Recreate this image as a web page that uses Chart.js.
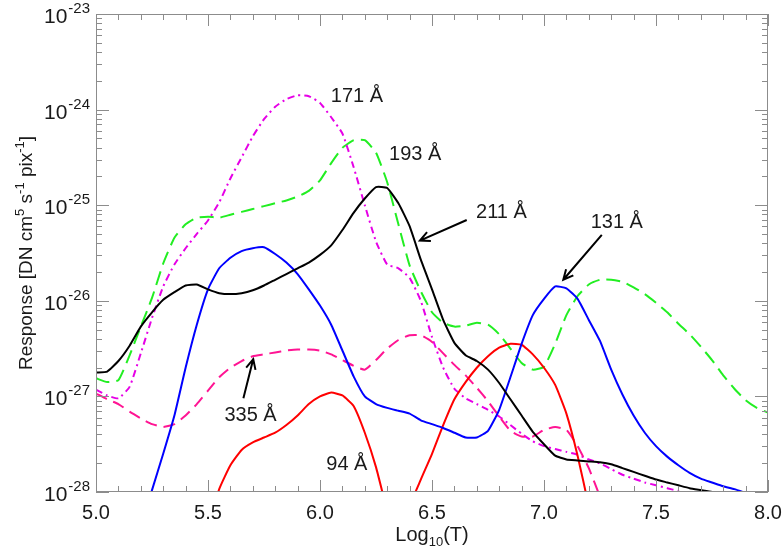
<!DOCTYPE html>
<html>
<head>
<meta charset="utf-8">
<script src="https://cdn.jsdelivr.net/npm/chart.js@4"></script>
<style>
  html, body { margin: 0; padding: 0; background: #fff; }
  canvas { display: block; }
</style>
</head>
<body>
<canvas id="resp-chart" width="782" height="546"></canvas>
<script>
// log10(T) grid shared by all channels
const logT = [5.00, 5.05, 5.10, 5.15, 5.20, 5.25, 5.30, 5.35, 5.40, 5.45,
              5.50, 5.55, 5.60, 5.65, 5.70, 5.75, 5.80, 5.85, 5.90, 5.95,
              6.00, 6.05, 6.10, 6.15, 6.20, 6.25, 6.30, 6.35, 6.40, 6.45,
              6.50, 6.55, 6.60, 6.65, 6.70, 6.75, 6.80, 6.85, 6.90, 6.95,
              7.00, 7.05, 7.10, 7.15, 7.20, 7.25, 7.30, 7.35, 7.40, 7.45,
              7.50, 7.55, 7.60, 7.65, 7.70, 7.75, 7.80, 7.85, 7.90, 7.95, 8.00];

// log10 of the response per channel (null = off the bottom of the plot)
const log94 = [null, null, null, null, null, null, null, null, null, null,
               -28.40, -27.97, -27.72, -27.56, -27.48, -27.43, -27.38, -27.30, -27.20, -27.08,
               -27.00, -26.96, -26.99, -27.10, -27.38, -27.74, -28.20, -28.60, -28.15, -27.87,
               -27.60, -27.30, -27.03, -26.85, -26.70, -26.58, -26.49, -26.45, -26.46, -26.56,
               -26.70, -26.88, -27.18, -27.62, -28.15, -28.70, null, null, null, null,
               null, null, null, null, null, null, null, null, null, null, null];
const log131 = [null, null, null, null, -28.40, -27.98, -27.60, -27.20, -26.70, -26.25,
                -25.88, -25.66, -25.55, -25.48, -25.45, -25.44, -25.51, -25.60, -25.72, -25.88,
                -26.05, -26.25, -26.52, -26.79, -27.00, -27.08, -27.12, -27.15, -27.18, -27.25,
                -27.29, -27.33, -27.38, -27.43, -27.43, -27.36, -27.14, -26.80, -26.45, -26.15,
                -25.98, -25.85, -25.87, -25.98, -26.20, -26.42, -26.72, -26.98, -27.20, -27.38,
                -27.52, -27.63, -27.72, -27.80, -27.86, -27.90, -27.94, -27.97, -28.01, -28.05, -28.08];
const log171 = [-26.93, -26.99, -27.02, -26.90, -26.55, -26.18, -25.85, -25.62, -25.45, -25.30,
                -25.16, -24.97, -24.72, -24.50, -24.28, -24.10, -23.97, -23.89, -23.85, -23.86,
                -23.93, -24.08, -24.25, -24.60, -25.00, -25.38, -25.62, -25.66, -25.76, -26.00,
                -26.38, -26.70, -26.92, -27.02, -27.08, -27.14, -27.21, -27.30, -27.39, -27.47,
                -27.52, -27.55, -27.58, -27.61, -27.66, -27.70, -27.76, -27.82, -27.86, -27.90,
                -27.93, -27.96, -27.99, -28.02, -28.05, null, null, null, null, null, null];
const log193 = [-26.81, -26.85, -26.83, -26.57, -26.27, -25.97, -25.61, -25.34, -25.20, -25.13,
                -25.12, -25.13, -25.10, -25.07, -25.04, -25.01, -24.98, -24.95, -24.91, -24.85,
                -24.74, -24.56, -24.40, -24.32, -24.32, -24.45, -24.76, -25.20, -25.63, -25.90,
                -26.12, -26.23, -26.27, -26.26, -26.23, -26.25, -26.35, -26.50, -26.65, -26.72,
                -26.69, -26.45, -26.15, -25.95, -25.83, -25.78, -25.78, -25.80, -25.86, -25.93,
                -26.02, -26.12, -26.24, -26.35, -26.48, -26.62, -26.78, -26.92, -27.04, -27.12, -27.17];
const log211 = [-26.75, -26.74, -26.63, -26.47, -26.27, -26.12, -25.99, -25.91, -25.84, -25.83,
                -25.88, -25.92, -25.93, -25.92, -25.89, -25.84, -25.78, -25.72, -25.66, -25.60,
                -25.52, -25.42, -25.26, -25.08, -24.93, -24.81, -24.82, -24.98, -25.22, -25.57,
                -25.88, -26.20, -26.44, -26.57, -26.63, -26.72, -26.86, -27.03, -27.20, -27.37,
                -27.50, -27.62, -27.66, -27.67, -27.68, -27.69, -27.71, -27.75, -27.79, -27.83,
                -27.87, -27.90, -27.93, -27.96, -27.98, -28.00, -28.03, null, null, null, null];
const log335 = [-26.97, -27.03, -27.08, -27.16, -27.23, -27.29, -27.32, -27.29, -27.20, -27.08,
                -26.94, -26.80, -26.70, -26.63, -26.58, -26.56, -26.54, -26.52, -26.51, -26.51,
                -26.52, -26.56, -26.62, -26.68, -26.72, -26.62, -26.50, -26.41, -26.36, -26.36,
                -26.43, -26.55, -26.67, -26.78, -26.91, -27.05, -27.21, -27.36, -27.42, -27.42,
                -27.35, -27.32, -27.35, -27.52, -27.75, -28.05, -28.35, null, null, null,
                null, null, null, null, null, null, null, null, null, null, null];

// axis ticks
const xTickLabels = ['5.0', '5.5', '6.0', '6.5', '7.0', '7.5', '8.0'];
const yTickExps = [-28, -27, -26, -25, -24, -23];

// channel labels: text, anchor (log T, log R)
const channelLabels = [
  { text: '171 Å', t: 6.165, r: -23.85 },
  { text: '193 Å', t: 6.425, r: -24.46 },
  { text: '211 Å', t: 6.81, r: -25.07 },
  { text: '131 Å', t: 7.325, r: -25.17 },
  { text: '335 Å', t: 5.69, r: -27.19 },
  { text: '94 Å', t: 6.12, r: -27.70 }
];
// arrows: from (t0,r0) to head (t1,r1)
const arrows = [
  { t0: 6.655, r0: -25.155, t1: 6.446, r1: -25.37 },
  { t0: 7.258, r0: -25.31, t1: 7.086, r1: -25.78 },
  { t0: 5.658, r0: -27.02, t1: 5.702, r1: -26.61 }
];

const FONT = "'Liberation Sans', Arial, Helvetica, sans-serif";

function toPoints(logs) {
  return logT.map((t, i) => ({ x: t, y: logs[i] === null ? null : Math.pow(10, logs[i]) }));
}

// IDL-style frame, inward ticks, labels and annotations
const idlAxes = {
  id: 'idlAxes',
  afterDraw(chart) {
    const { ctx, chartArea: a } = chart;
    const xs = chart.scales.x, ys = chart.scales.y;
    ctx.save();

    // ticks
    ctx.strokeStyle = '#8c8c8c';
    ctx.lineWidth = 1;
    ctx.beginPath();
    for (let k = 0; k <= 30; k++) {
      const px = Math.round(xs.getPixelForValue(5 + k / 10)) + 0.5;
      const len = k % 5 === 0 ? 12 : 6;
      ctx.moveTo(px, a.bottom); ctx.lineTo(px, a.bottom - len);
      ctx.moveTo(px, a.top); ctx.lineTo(px, a.top + len);
    }
    for (let e = -28; e < -23; e++) {
      for (let m = 1; m <= 9; m++) {
        const py = Math.round(ys.getPixelForValue(m * Math.pow(10, e))) + 0.5;
        const len = m === 1 ? 13 : 6;
        ctx.moveTo(a.left, py); ctx.lineTo(a.left + len, py);
        ctx.moveTo(a.right, py); ctx.lineTo(a.right - len, py);
      }
    }
    ctx.stroke();
    ctx.strokeRect(a.left + 0.5, a.top + 0.5, a.right - a.left - 1, a.bottom - a.top - 1);

    ctx.fillStyle = '#1a1a1a';
    // x tick labels
    ctx.font = '20px ' + FONT;
    ctx.textAlign = 'center';
    ctx.textBaseline = 'alphabetic';
    xTickLabels.forEach(lbl => {
      ctx.fillText(lbl, xs.getPixelForValue(parseFloat(lbl)), a.bottom + 27);
    });

    // y tick labels 10^n
    yTickExps.forEach(e => {
      const py = ys.getPixelForValue(Math.pow(10, e));
      const sup = '-' + Math.abs(e);
      ctx.font = '15px ' + FONT;
      const sw = ctx.measureText(sup).width;
      ctx.textAlign = 'left';
      const right = a.left - 6;
      ctx.fillText(sup, right - sw, py - 1);
      ctx.font = '21px ' + FONT;
      ctx.textAlign = 'right';
      ctx.fillText('10', right - sw - 1, py + 9);
    });

    // x title: Log10(T)
    const parts = [['Log', 20, 0], ['10', 13, 5], ['(T)', 20, 0]];
    let total = 0;
    parts.forEach(p => { ctx.font = p[1] + 'px ' + FONT; total += ctx.measureText(p[0]).width; });
    let cx = (a.left + a.right) / 2 - total / 2;
    ctx.textAlign = 'left';
    parts.forEach(p => {
      ctx.font = p[1] + 'px ' + FONT;
      ctx.fillText(p[0], cx, 541 + p[2]);
      cx += ctx.measureText(p[0]).width;
    });

    // y title: Response [DN cm^5 s^-1 pix^-1]
    const yparts = [['Response [DN cm', 19, 0], ['5', 13, -8], [' s', 19, 0], ['-1', 13, -8],
                    [' pix', 19, 0], ['-1', 13, -8], [']', 19, 0]];
    let ytotal = 0;
    yparts.forEach(p => { ctx.font = p[1] + 'px ' + FONT; ytotal += ctx.measureText(p[0]).width; });
    ctx.save();
    ctx.translate(32, (a.top + a.bottom) / 2);
    ctx.rotate(-Math.PI / 2);
    let ty = -ytotal / 2;
    yparts.forEach(p => {
      ctx.font = p[1] + 'px ' + FONT;
      ctx.fillText(p[0], ty, p[2]);
      ty += ctx.measureText(p[0]).width;
    });
    ctx.restore();

    // channel labels
    ctx.font = '20px ' + FONT;
    ctx.textAlign = 'center';
    ctx.textBaseline = 'middle';
    channelLabels.forEach(l => {
      ctx.fillText(l.text, xs.getPixelForValue(l.t), ys.getPixelForValue(Math.pow(10, l.r)) + 1);
    });

    // arrows
    ctx.strokeStyle = '#000';
    ctx.lineWidth = 2;
    arrows.forEach(ar => {
      const x0 = xs.getPixelForValue(ar.t0), y0 = ys.getPixelForValue(Math.pow(10, ar.r0));
      const x1 = xs.getPixelForValue(ar.t1), y1 = ys.getPixelForValue(Math.pow(10, ar.r1));
      const ang = Math.atan2(y1 - y0, x1 - x0);
      ctx.beginPath();
      ctx.moveTo(x0, y0); ctx.lineTo(x1, y1);
      ctx.moveTo(x1 - 11 * Math.cos(ang - 0.45), y1 - 11 * Math.sin(ang - 0.45));
      ctx.lineTo(x1, y1);
      ctx.lineTo(x1 - 11 * Math.cos(ang + 0.45), y1 - 11 * Math.sin(ang + 0.45));
      ctx.stroke();
    });
    ctx.restore();
  }
};

const ctxResp = document.getElementById('resp-chart').getContext('2d');

const respChart = new Chart(ctxResp, {
  type: 'line',
  data: {
    datasets: [
      { label: '211 Å', data: toPoints(log211), borderColor: '#000000', borderWidth: 2 },
      { label: '131 Å', data: toPoints(log131), borderColor: '#0000ff', borderWidth: 2 },
      { label: '94 Å', data: toPoints(log94), borderColor: '#ff0000', borderWidth: 2 },
      { label: '335 Å', data: toPoints(log335), borderColor: '#ff1493', borderWidth: 2, borderDash: [12, 7] },
      { label: '171 Å', data: toPoints(log171), borderColor: '#e600e6', borderWidth: 2, borderDash: [7, 4, 2, 4] },
      { label: '193 Å', data: toPoints(log193), borderColor: '#22ee22', borderWidth: 2, borderDash: [14, 7] }
    ]
  },
  options: {
    responsive: false,
    animation: false,
    devicePixelRatio: 1,
    layout: { padding: { top: 14, right: 14, left: 0, bottom: 0 } },
    elements: {
      point: { radius: 0, hoverRadius: 0 },
      line: { tension: 0.15, fill: false, borderCapStyle: 'butt', borderJoinStyle: 'round' }
    },
    plugins: { legend: { display: false }, tooltip: { enabled: false } },
    scales: {
      x: {
        type: 'linear', min: 5, max: 8,
        grid: { display: false, drawTicks: false },
        border: { display: false },
        ticks: { display: false },
        afterFit: s => { s.height = 54; }
      },
      y: {
        type: 'logarithmic', min: 1e-28, max: 1e-23,
        grid: { display: false, drawTicks: false },
        border: { display: false },
        ticks: { display: false },
        afterBuildTicks: s => { s.ticks = yTickExps.map(e => ({ value: Math.pow(10, e) })); },
        afterFit: s => { s.width = 96; }
      }
    }
  },
  plugins: [idlAxes]
});
</script>
</body>
</html>
